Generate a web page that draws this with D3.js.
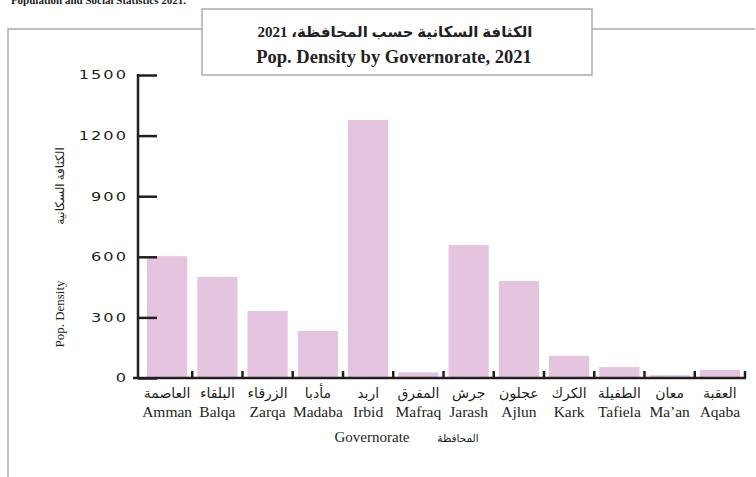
<!DOCTYPE html>
<html>
<head>
<meta charset="utf-8">
<script src="https://cdn.jsdelivr.net/npm/d3@7"></script>
<style>
  body { margin: 0; background: #fff; }
  svg { display: block; }
</style>
</head>
<body>
<div id="frame"></div>
<script>
// data
const governoratesEn = ["Amman", "Balqa", "Zarqa", "Madaba", "Irbid", "Mafraq", "Jarash", "Ajlun", "Kark", "Tafiela", "Ma’an", "Aqaba"];
const governoratesAr = ["العاصمة", "البلقاء", "الزرقاء", "مأدبا", "اربد", "المفرق", "جرش", "عجلون", "الكرك", "الطفيلة", "معان", "العقبة"];
const density = [603, 500, 332, 233, 1277, 28, 658, 480, 110, 54, 14, 40];
const yTicks = [0, 300, 600, 900, 1200, 1500];

const width = 756, height = 477;
const serif = "'Liberation Serif', 'Times New Roman', 'DejaVu Sans', serif";
const barColor = "#e4c4de";
const frameColor = "#a9adb1";
const ink = "#231f20";

const svg = d3.select("#frame").append("svg")
  .attr("width", width)
  .attr("height", height);

// source line, cut off at the top like the scan
svg.append("text")
  .attr("x", 186).attr("y", 4)
  .attr("text-anchor", "end")
  .attr("font-family", serif)
  .attr("font-weight", "bold")
  .attr("font-size", 11)
  .attr("fill", "#222")
  .text("Population and Social Statistics 2021.");

// outer frame lines
svg.append("path")
  .attr("d", "M8,477 V29 H202 M592,29 H755")
  .attr("fill", "none")
  .attr("stroke", frameColor)
  .attr("stroke-width", 1.5);

// title box
svg.append("rect")
  .attr("x", 202).attr("y", 9)
  .attr("width", 390).attr("height", 66)
  .attr("fill", "#fff")
  .attr("stroke", frameColor)
  .attr("stroke-width", 1.5);

svg.append("text")
  .attr("x", 395).attr("y", 37)
  .attr("text-anchor", "middle")
  .attr("font-family", serif)
  .attr("font-weight", "bold")
  .attr("font-size", 15)
  .attr("fill", "#222")
  .attr("direction", "rtl")
  .text("الكثافة السكانية حسب المحافظة، 2021");

svg.append("text")
  .attr("x", 394).attr("y", 63)
  .attr("text-anchor", "middle")
  .attr("font-family", serif)
  .attr("font-weight", "bold")
  .attr("font-size", 18.5)
  .attr("fill", "#222")
  .text("Pop. Density by Governorate, 2021");

// scales
const x = d3.scaleBand()
  .domain(governoratesEn)
  .range([142, 745])
  .paddingInner(0.2)
  .paddingOuter(0.1);

const y = d3.scaleLinear()
  .domain([0, 1500])
  .range([378, 75]);

// bars
svg.append("g")
  .selectAll("rect")
  .data(density)
  .join("rect")
  .attr("x", (d, i) => x(governoratesEn[i]))
  .attr("y", (d) => y(d))
  .attr("width", x.bandwidth())
  .attr("height", (d) => y(0) - y(d))
  .attr("fill", barColor);

// y axis
const yAxis = svg.append("g")
  .attr("transform", "translate(138,0)")
  .call(d3.axisRight(y).tickValues(yTicks).tickSize(19).tickFormat(""));
yAxis.select(".domain").remove();
yAxis.selectAll(".tick line")
  .attr("stroke", ink)
  .attr("stroke-width", 2.5);

svg.append("line")
  .attr("x1", 138).attr("x2", 138)
  .attr("y1", y(1500) - 1).attr("y2", y(0) + 1)
  .attr("stroke", ink)
  .attr("stroke-width", 2.5);

// wide tick labels: squeeze a normal font out sideways
svg.append("g")
  .selectAll("text")
  .data(yTicks)
  .join("text")
  .attr("transform", (d) => `translate(128,${y(d)}) scale(1.35,1)`)
  .attr("dy", "0.36em")
  .attr("text-anchor", "end")
  .attr("font-family", "'DejaVu Sans', sans-serif")
  .attr("font-size", 12)
  .attr("letter-spacing", 1.5)
  .attr("fill", ink)
  .text((d) => d);

// x axis: baseline with small upward ticks between bands
const step = x.step();
const boundaries = governoratesEn.map((g) => x(g) + x.bandwidth() + (step - x.bandwidth()) / 2);
const xAxis = svg.append("g");
xAxis.append("line")
  .attr("x1", 133).attr("x2", 746)
  .attr("y1", y(0)).attr("y2", y(0))
  .attr("stroke", ink)
  .attr("stroke-width", 2.5);
xAxis.selectAll(".xtick")
  .data(boundaries)
  .join("line")
  .attr("class", "xtick")
  .attr("x1", (d) => d).attr("x2", (d) => d)
  .attr("y1", y(0)).attr("y2", y(0) - 7)
  .attr("stroke", ink)
  .attr("stroke-width", 2.5);

// category labels
svg.append("g")
  .selectAll("text")
  .data(governoratesAr)
  .join("text")
  .attr("x", (d, i) => x(governoratesEn[i]) + x.bandwidth() / 2)
  .attr("y", 398)
  .attr("text-anchor", "middle")
  .attr("font-family", serif)
  .attr("font-size", 14)
  .attr("fill", ink)
  .text((d) => d);

svg.append("g")
  .selectAll("text")
  .data(governoratesEn)
  .join("text")
  .attr("x", (d) => x(d) + x.bandwidth() / 2)
  .attr("y", 417)
  .attr("text-anchor", "middle")
  .attr("font-family", serif)
  .attr("font-size", 15.5)
  .attr("fill", ink)
  .text((d) => d);

// axis titles
svg.append("text")
  .attr("x", 372).attr("y", 442)
  .attr("text-anchor", "middle")
  .attr("font-family", serif)
  .attr("font-size", 15)
  .attr("fill", ink)
  .text("Governorate");

svg.append("text")
  .attr("x", 458).attr("y", 442)
  .attr("text-anchor", "middle")
  .attr("font-family", serif)
  .attr("font-size", 10.5)
  .attr("fill", ink)
  .text("المحافظة");

svg.append("text")
  .attr("transform", "translate(64,314) rotate(-90)")
  .attr("text-anchor", "middle")
  .attr("font-family", serif)
  .attr("font-size", 13)
  .attr("fill", ink)
  .text("Pop. Density");

svg.append("text")
  .attr("transform", "translate(64,186) rotate(-90)")
  .attr("text-anchor", "middle")
  .attr("font-family", serif)
  .attr("font-size", 12)
  .attr("fill", ink)
  .text("الكثافة السكانية");
</script>
</body>
</html>
